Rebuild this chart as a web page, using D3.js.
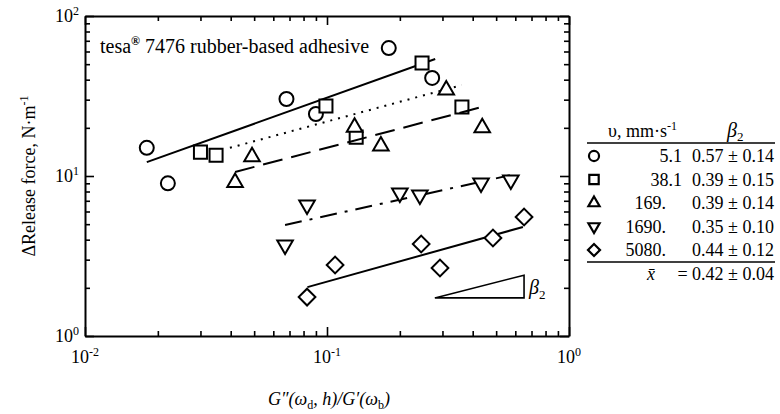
<!DOCTYPE html>
<html>
<head>
<meta charset="utf-8">
<script src="https://cdn.jsdelivr.net/npm/d3@7"></script>
<style>
  body { margin: 0; background: #fff; }
  svg { display: block; font-family: "Liberation Serif", "Times New Roman", serif; }
</style>
</head>
<body>
<svg width="780" height="414"></svg>
<script>
// speeds and fitted exponents (legend table)
const speeds = ["5.1", "38.1", "169.", "1690.", "5080."];
const betas = ["0.57 ± 0.14", "0.39 ± 0.15", "0.39 ± 0.14", "0.35 ± 0.10", "0.44 ± 0.12"];
const meanBeta = "= 0.42 ± 0.04";

// measured points, G''/G' vs release force
const x51 = [0.018, 0.022, 0.068, 0.090, 0.180, 0.272];
const y51 = [15.0, 9.0, 30.3, 24.4, 63.0, 41.0];
const x381 = [0.030, 0.0348, 0.099, 0.132, 0.247, 0.361];
const y381 = [14.1, 13.5, 27.4, 17.5, 50.9, 27.0];
const x169 = [0.0417, 0.049, 0.130, 0.167, 0.311, 0.438];
const y169 = [9.1, 13.2, 20.2, 15.4, 34.5, 20.0];
const x1690 = [0.0671, 0.0827, 0.200, 0.242, 0.433, 0.575];
const y1690 = [3.70, 6.59, 7.83, 7.6, 9.04, 9.44];
const x5080 = [0.0827, 0.108, 0.245, 0.293, 0.485, 0.652];
const y5080 = [1.75, 2.78, 3.76, 2.66, 4.10, 5.54];

// power-law fit lines (end points)
const fitX51 = [0.018, 0.28], fitY51 = [12.2, 53.9];
const fitX381 = [0.0397, 0.36], fitY381 = [15.0, 37.0];
const fitX169 = [0.0417, 0.437], fitY169 = [10.6, 27.0];
const fitX1690 = [0.0671, 0.57], fitY1690 = [4.94, 10.1];
const fitX5080 = [0.083, 0.645], fitY5080 = [2.02, 4.8];

// slope triangle
const triX = [0.279, 0.652], triY = [1.73, 2.40];

const xMajor = [0.01, 0.1, 1];
const yMajor = [1, 10, 100];
const xExp = ["-2", "-1", "0"];
const yExp = ["0", "1", "2"];

const series = [
  { xs: x51, ys: y51, fx: fitX51, fy: fitY51, sym: "circle", dash: null },
  { xs: x381, ys: y381, fx: fitX381, fy: fitY381, sym: "square", dash: "2,6" },
  { xs: x169, ys: y169, fx: fitX169, fy: fitY169, sym: "up", dash: "20,9" },
  { xs: x1690, ys: y1690, fx: fitX1690, fy: fitY1690, sym: "down", dash: "17,8,3,8" },
  { xs: x5080, ys: y5080, fx: fitX5080, fy: fitY5080, sym: "diamond", dash: null }
];

const margin = { top: 16, right: 211, bottom: 78, left: 85 };
const width = 780, height = 414;
const w = width - margin.left - margin.right;
const h = height - margin.top - margin.bottom;

const svg = d3.select("svg");
const chart = svg.append("g").attr("transform", `translate(${margin.left},${margin.top})`);

const x = d3.scaleLog().domain([0.01, 1]).range([0, w]);
const y = d3.scaleLog().domain([1, 100]).range([h, 0]);

const minors = (lo, hi) => {
  const out = [];
  for (let d = lo; d < hi; d *= 10) for (let k = 2; k <= 9; k++) out.push(d * k);
  return out;
};
const xMinor = minors(0.01, 1);
const yMinor = minors(1, 100);

function axisPair(axisFn, scale, major, minor, tr) {
  chart.append("g").attr("transform", tr)
    .call(axisFn(scale).tickValues(minor).tickSize(-5).tickFormat(""))
    .call(g => g.select(".domain").remove());
  chart.append("g").attr("transform", tr)
    .call(axisFn(scale).tickValues(major).tickSizeInner(-9).tickSizeOuter(0).tickFormat(""))
    .call(g => g.select(".domain").attr("stroke-width", 2));
}
axisPair(d3.axisBottom, x, xMajor, xMinor, `translate(0,${h})`);
axisPair(d3.axisTop, x, xMajor, xMinor, "translate(0,0)");
axisPair(d3.axisLeft, y, yMajor, yMinor, "translate(0,0)");
axisPair(d3.axisRight, y, yMajor, yMinor, `translate(${w},0)`);
chart.selectAll(".tick line").attr("stroke-width", 1.6);

// tick labels with exponents
xMajor.forEach((v, i) => {
  const t = chart.append("text").attr("x", x(v)).attr("y", h + 27)
    .attr("text-anchor", "middle").attr("font-size", 18).text("10");
  t.append("tspan").attr("dy", -7).attr("font-size", 12).text(xExp[i]);
});
yMajor.forEach((v, i) => {
  const t = chart.append("text").attr("x", -6).attr("y", y(v) + 6)
    .attr("text-anchor", "end").attr("font-size", 18).text("10");
  t.append("tspan").attr("dy", -7).attr("font-size", 12).text(yExp[i]);
});

// axis titles
const yl = svg.append("text")
  .attr("transform", `translate(35,${margin.top + h / 2}) rotate(-90)`)
  .attr("text-anchor", "middle").attr("font-size", 18).text("ΔRelease force, N·m");
yl.append("tspan").attr("dy", -7).attr("font-size", 12).text("-1");

const xl = svg.append("text").attr("x", margin.left + x(0.1) + 2).attr("y", 405)
  .attr("text-anchor", "middle").attr("font-size", 18).attr("font-style", "italic");
xl.append("tspan").text("G″(ω");
xl.append("tspan").attr("dy", 4).attr("font-size", 12).attr("font-style", "normal").text("d");
xl.append("tspan").attr("dy", -4).text(", h)/G′(ω");
xl.append("tspan").attr("dy", 4).attr("font-size", 12).attr("font-style", "normal").text("b");
xl.append("tspan").attr("dy", -4).text(")");

// in-plot title
const tt = chart.append("text").attr("x", 15).attr("y", 37).attr("font-size", 20).text("tesa");
tt.append("tspan").attr("dy", -8).attr("font-size", 12).attr("font-weight", "bold").text("®");
tt.append("tspan").attr("dy", 8).text(" 7476 rubber-based adhesive");

// marker shapes
function marker(sel, sym, s) {
  if (sym === "circle") return sel.append("circle").attr("r", 7 * s);
  const p = {
    square: d3.symbol(d3.symbolSquare, 170 * s * s),
    up: d3.symbol(d3.symbolTriangle, 105 * s * s),
    down: d3.symbol(d3.symbolTriangle, 105 * s * s),
    diamond: d3.symbol(d3.symbolSquare, 140 * s * s)
  }[sym];
  const rot = sym === "down" ? 180 : sym === "diamond" ? 45 : 0;
  return sel.append("path").attr("d", p).attr("transform", `rotate(${rot})`);
}

const line = d3.line().x(d => x(d[0])).y(d => y(d[1]));

series.forEach(s => {
  chart.append("path")
    .attr("d", line(d3.zip(s.fx, s.fy)))
    .attr("fill", "none").attr("stroke", "#000").attr("stroke-width", 2)
    .attr("stroke-dasharray", s.dash);
  const g = chart.selectAll(null).data(d3.zip(s.xs, s.ys)).enter().append("g")
    .attr("transform", d => `translate(${x(d[0])},${y(d[1])})`);
  g.each(function () {
    marker(d3.select(this), s.sym, 1).attr("fill", "#fff").attr("stroke", "#000").attr("stroke-width", 2);
  });
});

// slope triangle
chart.append("path")
  .attr("d", line([[triX[0], triY[0]], [triX[1], triY[0]], [triX[1], triY[1]], [triX[0], triY[0]]]))
  .attr("fill", "none").attr("stroke", "#000").attr("stroke-width", 1.6);
const bl = chart.append("text").attr("x", x(triX[1]) + 5).attr("y", y(Math.sqrt(triY[0] * triY[1])) + 7)
  .attr("font-size", 20).attr("font-style", "italic").text("β");
bl.append("tspan").attr("dy", 5).attr("font-size", 13).attr("font-style", "normal").text("2");

// legend table
const lg = svg.append("g");
const lx0 = 587, lx1 = 775, rowY = 162, rowH = 23.5;
const hd = lg.append("text").attr("x", 608).attr("y", 137).attr("font-size", 18).text("υ, mm·s");
hd.append("tspan").attr("dy", -7).attr("font-size", 12).text("-1");
const hb = lg.append("text").attr("x", 727).attr("y", 137).attr("font-size", 20).attr("font-style", "italic").text("β");
hb.append("tspan").attr("dy", 4).attr("font-size", 13).attr("font-style", "normal").text("2");
lg.append("line").attr("x1", lx0).attr("x2", lx1).attr("y1", 143).attr("y2", 143).attr("stroke", "#000").attr("stroke-width", 1.6);

series.forEach((s, i) => {
  const cy = rowY + i * rowH;
  const m = lg.append("g").attr("transform", `translate(594,${cy - 6})`);
  marker(m, s.sym, 0.72).attr("fill", "none").attr("stroke", "#000").attr("stroke-width", 2.2);
  lg.append("text").attr("x", speeds[i].endsWith(".") ? 666 : 682).attr("y", cy)
    .attr("text-anchor", "end").attr("font-size", 18).text(speeds[i]);
  lg.append("text").attr("x", 774).attr("y", cy).attr("text-anchor", "end")
    .attr("font-size", 18).text(betas[i]);
});
const lineY = rowY + 4 * rowH + 6;
lg.append("line").attr("x1", lx0).attr("x2", lx1).attr("y1", lineY).attr("y2", lineY).attr("stroke", "#000").attr("stroke-width", 1.6);
lg.append("text").attr("x", 647).attr("y", lineY + 18).attr("font-size", 18).attr("font-style", "italic").text("x̄");
lg.append("text").attr("x", 774).attr("y", lineY + 18).attr("text-anchor", "end").attr("font-size", 18).text(meanBeta);
</script>
</body>
</html>
